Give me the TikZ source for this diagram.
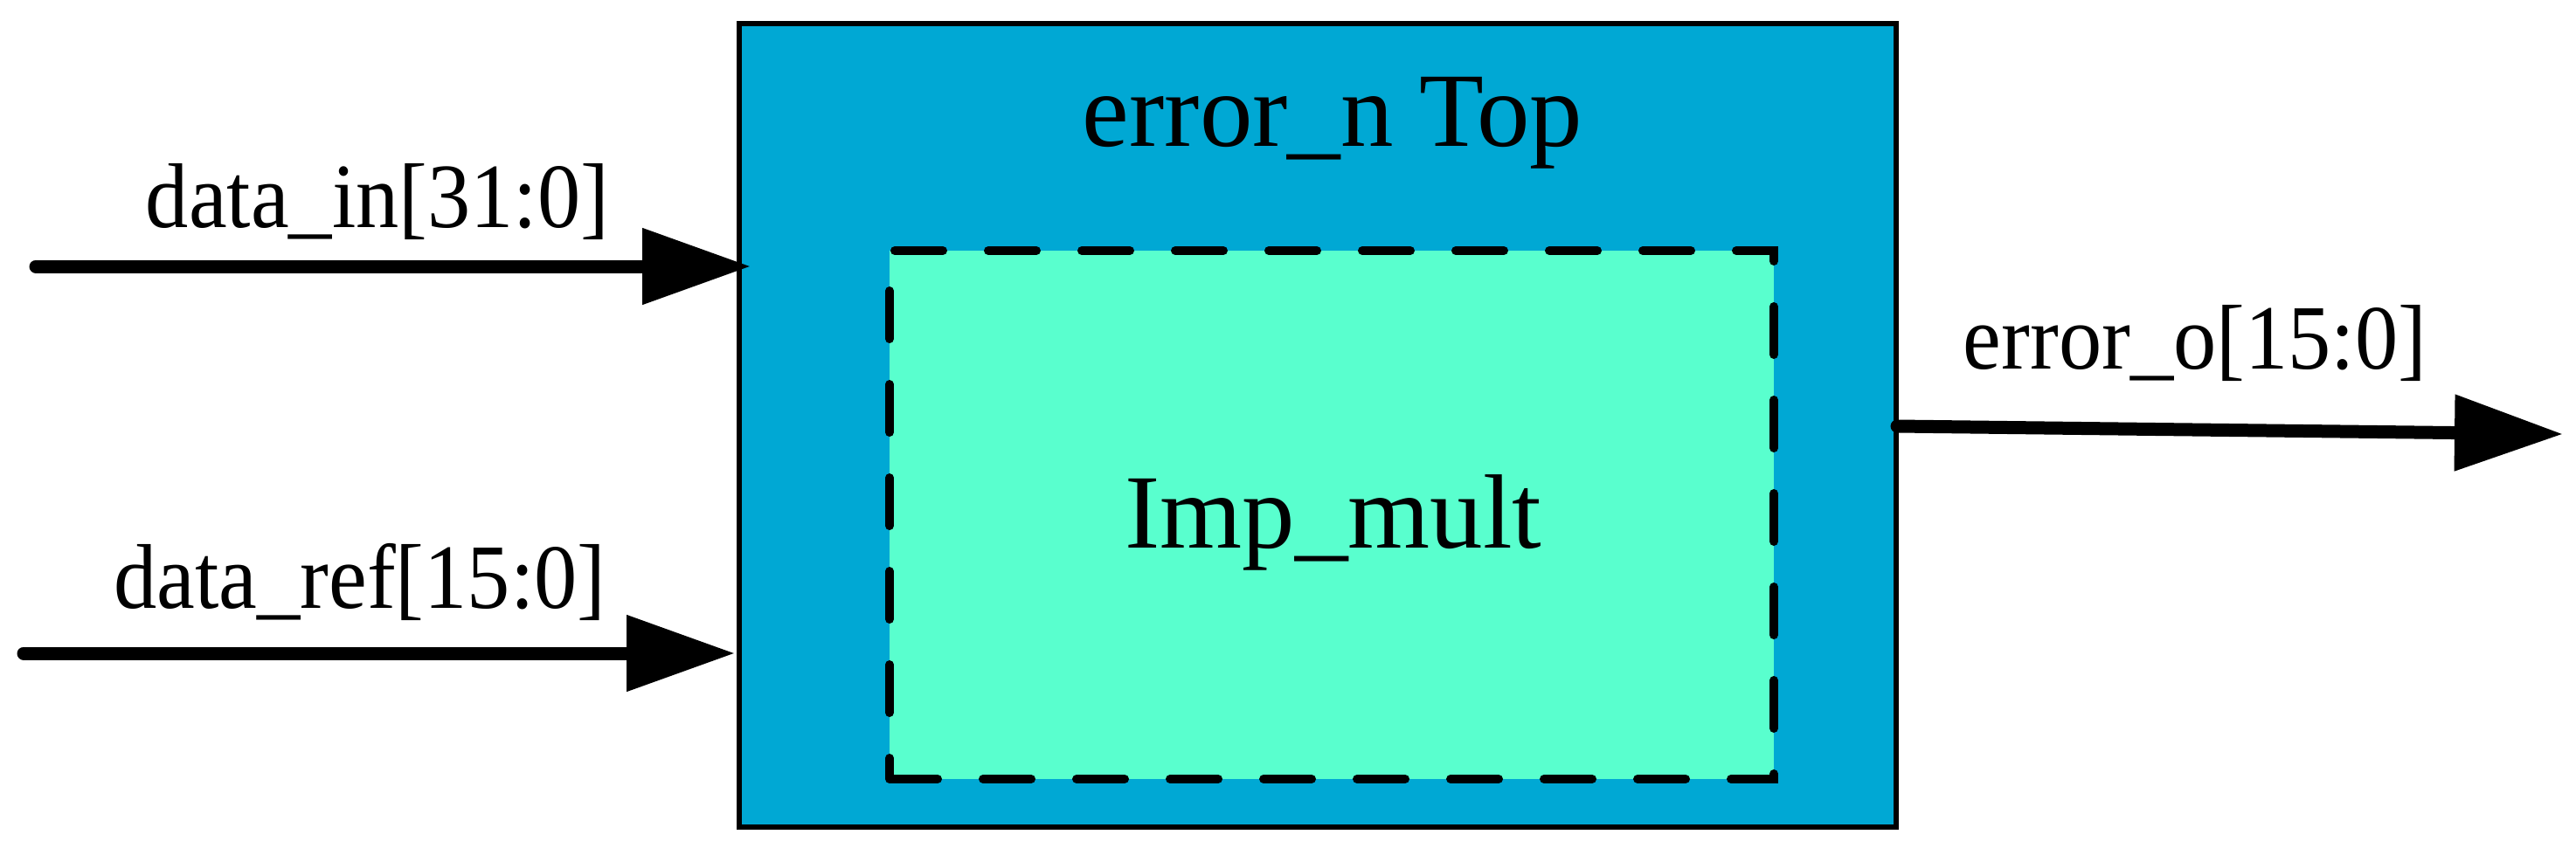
\documentclass[tikz,border=0pt]{standalone}
\usepackage{fontspec}
\setmainfont{Liberation Serif}
\usepackage{xcolor}
\usepackage{tikz}
\usetikzlibrary{arrows.meta}
\usetikzlibrary{positioning}

\definecolor{topblue}{RGB}{0,168,212}
\definecolor{multgreen}{RGB}{89,255,206}
\newcommand{\sigfont}{\fontsize{28pt}{32pt}\selectfont}
\newcommand{\blkfont}{\fontsize{34.4pt}{40pt}\selectfont}
\newcommand{\tallsig}[1]{\scalebox{1}[1.07]{#1}}

\begin{document}
\begin{tikzpicture}[
    topbox/.style={draw,line width=0.06cm,fill=topblue,inner sep=0pt,
      minimum width=13.24cm,minimum height=9.20cm},
    multbox/.style={draw,line width=0.1cm,fill=multgreen,inner sep=0pt,
      line cap=round,dash pattern=on 0.55cm off 0.52cm,
      minimum width=10.12cm,minimum height=6.05cm},
    bus/.style={line width=0.15cm,line cap=round,
      -{Triangle[length=1.24cm,width=0.84cm]}},
    sig/.style={inner sep=0pt,anchor=base,font=\sigfont},
    blk/.style={inner sep=0pt,anchor=base,font=\blkfont}]
  \useasboundingbox (0,0) rectangle (29.48,9.86);

  \node[topbox] (top) at (15.08,4.99) {};
  \node[multbox] (mult) at (15.24,3.965) {};
  \node[blk] (toplabel) at (15.25,8.19) {error\_n Top};
  \node[blk] (multlabel) at (15.26,3.59) {Imp\_mult};

  % ports
  \coordinate (in1) at (0.41,6.81);
  \coordinate (in2) at (0.27,2.38);
  \coordinate (out1) at (21.71,4.98);
  \coordinate (out2) at (29.33,4.89);
  \draw[bus] (in1) -- ([xshift=0.16cm]top.west |- in1);
  \draw[bus] (in2) -- ([xshift=-0.02cm]top.west |- in2);
  \draw[bus] (out1) -- (out2);

  \node[sig] (inlabel) at (4.32,7.26) {\tallsig{data\_in[31:0]}};
  \node[sig] (reflabel) at (4.12,2.90) {\tallsig{data\_ref[15:0]}};
  \node[sig] (outlabel) at (25.12,5.64) {\tallsig{error\_o[15:0]}};
\end{tikzpicture}
\end{document}
